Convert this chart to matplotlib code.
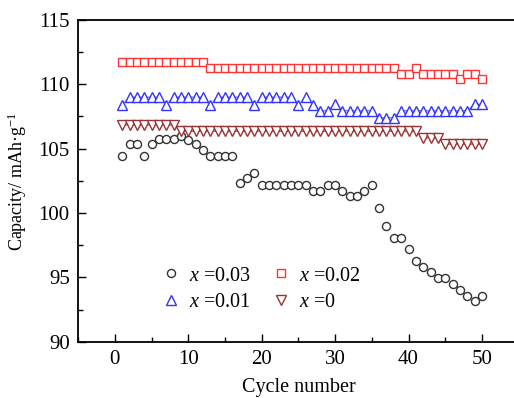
import matplotlib
matplotlib.use("Agg")
import matplotlib.pyplot as plt
import numpy as np
from matplotlib.ticker import MultipleLocator

plt.rcParams['font.family'] = ['Liberation Serif', 'DejaVu Serif']
plt.rcParams['mathtext.fontset'] = 'custom'
plt.rcParams['mathtext.rm'] = 'Liberation Serif'
plt.rcParams['mathtext.it'] = 'Liberation Serif:italic'

# cycle numbers
cycles = np.arange(1, 51)

# x = 0.03 (circles)
cap_003 = [104.4, 105.35, 105.35, 104.4, 105.35, 105.75, 105.75, 105.75, 105.95, 105.7,
           105.35, 104.9, 104.45, 104.45, 104.45, 104.45, 102.3, 102.7, 103.1, 102.2,
           102.2, 102.2, 102.2, 102.2, 102.2, 102.2, 101.75, 101.75, 102.2, 102.2,
           101.75, 101.3, 101.3, 101.75, 102.15, 100.4, 99.0, 98.1, 98.1, 97.2,
           96.3, 95.85, 95.4, 94.95, 94.95, 94.5, 94.05, 93.6, 93.15, 93.6]

# x = 0.02 (squares)
cap_002 = [111.7] * 12 + [111.25] * 26 + [110.8, 110.8, 111.25, 110.8, 110.8, 110.8,
                                          110.8, 110.8, 110.4, 110.8, 110.8, 110.4]

# x = 0.01 (up triangles)
cap_001 = [108.4, 109.0, 109.0, 109.0, 109.0, 109.0,
           108.4, 109.0, 109.0, 109.0, 109.0, 109.0,
           108.4, 109.0, 109.0, 109.0, 109.0, 109.0,
           108.4, 109.0, 109.0, 109.0, 109.0, 109.0,
           108.4, 109.0, 108.4, 107.95, 107.95, 108.45,
           107.95, 107.95, 107.95, 107.95, 107.95, 107.4, 107.4, 107.4,
           107.95, 107.95, 107.95, 107.95, 107.95, 107.95, 107.95, 107.95, 107.95, 107.95,
           108.45, 108.45]

# x = 0 (down triangles)
cap_0 = [106.85] * 8 + [106.35] * 33 + [105.85] * 3 + [105.35] * 6

# values, marker, edge colour, line colour (None = no line), size, label
series = {
    '0.03': (cap_003, 'o', '#333333', None, 5.8, r'$x$ =0.03'),
    '0.02': (cap_002, 's', '#ff3333', '#ff8080', 5.6, r'$x$ =0.02'),
    '0.01': (cap_001, '^', '#3333ff', '#8080ff', 7.8, r'$x$ =0.01'),
    '0': (cap_0, 'v', '#993333', '#b36666', 7.8, r'$x$ =0'),
}

fig = plt.figure(figsize=(5.14, 3.98), dpi=100)
ax = fig.add_axes([0.152, 0.141, 0.857, 0.809])

handles = {}
for key, (vals, mk, col, lcol, ms, lab) in series.items():
    if lcol is not None:
        ax.plot(cycles, vals, '-', color=lcol, lw=1.0, zorder=2)
    h, = ax.plot(cycles, vals, mk, ls='none', mfc='white', mec=col, mew=1.0, ms=ms,
                 label=lab, zorder=3)
    handles[key] = h

ax.set_xlim(-5, 55)
ax.set_ylim(90, 115)
ax.xaxis.set_major_locator(MultipleLocator(10))
ax.xaxis.set_minor_locator(MultipleLocator(5))
ax.yaxis.set_major_locator(MultipleLocator(5))
ax.yaxis.set_minor_locator(MultipleLocator(2.5))
ax.tick_params(which='both', direction='in', top=False, right=False, labelsize=15, width=1)
ax.tick_params(which='major', length=6, pad=6)
ax.tick_params(which='minor', length=3.5)
for s in ax.spines.values():
    s.set_linewidth(1.3)

ax.set_xlabel('Cycle number', fontsize=14.5, labelpad=6)
ax.set_ylabel(r'Capacity/ mAh·g$^{\mathregular{-1}}$', fontsize=13, labelpad=7)

# legend filled column by column: first column 0.03 / 0.01, second 0.02 / 0
order = ['0.03', '0.01', '0.02', '0']
leg = ax.legend(handles=[handles[k] for k in order], ncol=2, loc='lower left',
                bbox_to_anchor=(0.158, 0.05), frameon=False, fontsize=14.5,
                handlelength=0.9, handletextpad=0.45, columnspacing=1.05,
                labelspacing=0.35, borderpad=0.2)

fig.savefig('out.png', dpi=100)
